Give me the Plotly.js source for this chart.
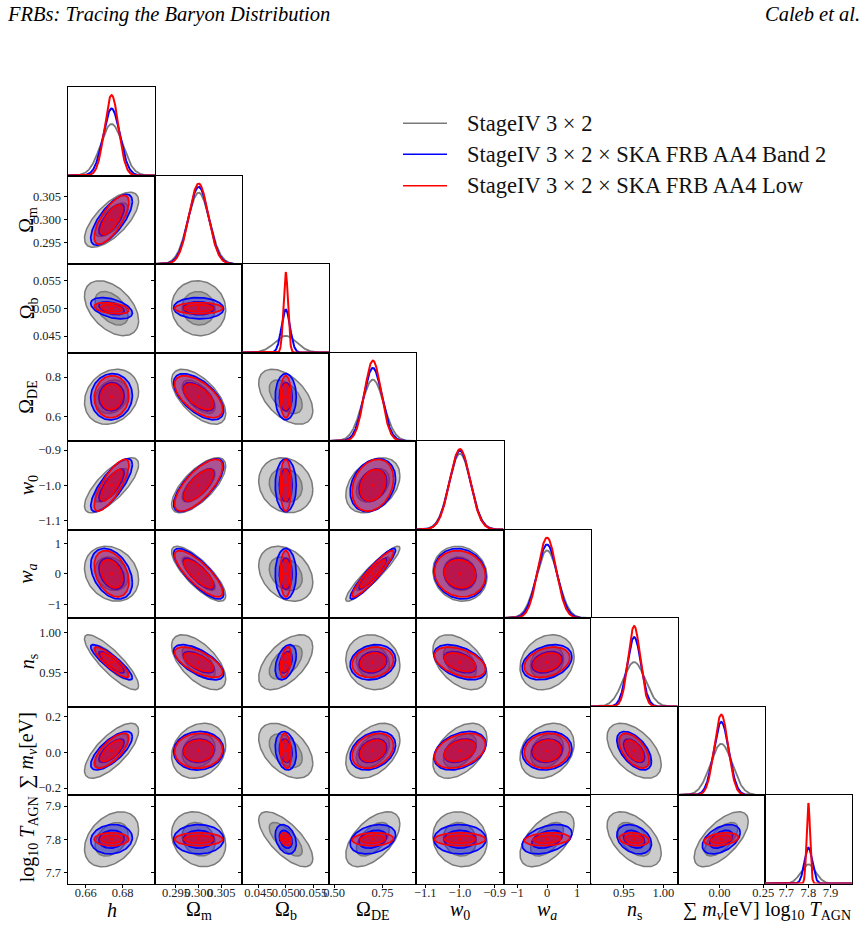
<!DOCTYPE html>
<html>
<head>
<meta charset="utf-8">
<script src="https://cdn.plot.ly/plotly-3.0.1.min.js"></script>
<style>
  html, body { margin: 0; padding: 0; background: #ffffff; }
  #fig { width: 868px; height: 927px; }
</style>
</head>
<body>
<div id="fig"></div>
<script>
// ---- Forecast inputs -------------------------------------------------------
const paramLabels = ['<i>h</i>', 'Ω<sub>m</sub>', 'Ω<sub>b</sub>', 'Ω<sub>DE</sub>',
  '<i>w</i><sub>0</sub>', '<i>w<sub>a</sub></i>', '<i>n</i><sub>s</sub>',
  '∑ <i>m<sub>ν</sub></i>[eV]', 'log<sub>10</sub> <i>T</i><sub>AGN</sub>'];
const fiducial = [0.674, 0.300, 0.050, 0.700, -1.0, 0.0, 0.963, 0.01, 7.8];

const seriesNames = ['StageIV 3 × 2', 'StageIV 3 × 2 × SKA FRB AA4 Band 2', 'StageIV 3 × 2 × SKA FRB AA4 Low'];

// marginalised 1-sigma errors
const sigmaStageIV = [0.0059, 0.0024, 0.00199, 0.0562, 0.0314, 0.3625, 0.0138, 0.0622, 0.0333];
const sigmaBand2   = [0.00454, 0.00222, 0.000774, 0.0472, 0.0302, 0.3336, 0.00884, 0.0436, 0.0178];
const sigmaLow     = [0.00378, 0.00213, 0.000414, 0.0429, 0.0296, 0.3046, 0.00762, 0.0396, 0.00793];

// correlation coefficients, lower triangle: row i holds rho(i, j) for j < i
const rhoStageIV = [
  [],
  [0.68],
  [-0.45, -0.05],
  [0.2, -0.6, -0.5],
  [0.75, 0.7, -0.15, 0.35],
  [-0.2, -0.8, -0.3, 0.93, -0.1],
  [-0.85, -0.6, 0.55, -0.1, -0.45, 0.2],
  [0.72, 0.2, -0.45, 0.4, 0.45, 0.25, -0.5],
  [0.35, -0.2, -0.7, 0.55, -0.1, 0.55, -0.5, 0.65]
];
const rhoBand2 = [
  [],
  [0.72],
  [-0.45, -0.05],
  [0.05, -0.6, 0.0],
  [0.78, 0.72, 0.0, 0.25],
  [-0.35, -0.8, 0.0, 0.93, -0.1],
  [-0.88, -0.65, 0.4, 0.15, -0.45, 0.3],
  [0.72, 0.05, -0.2, 0.3, 0.35, 0.1, -0.55],
  [0.1, 0.0, -0.3, 0.3, 0.0, 0.4, -0.3, 0.45]
];
const rhoLow = [
  [],
  [0.72],
  [-0.35, 0.0],
  [0.05, -0.6, 0.0],
  [0.78, 0.72, 0.0, 0.25],
  [-0.35, -0.8, 0.0, 0.93, -0.1],
  [-0.88, -0.65, 0.4, 0.15, -0.45, 0.3],
  [0.72, 0.05, -0.2, 0.3, 0.35, 0.1, -0.55],
  [0.0, 0.0, -0.3, 0.1, 0.0, 0.2, -0.2, 0.3]
];

// tick values / labels for each parameter
const xTickVals = [[0.66, 0.68], [0.295, 0.300, 0.305], [0.045, 0.050, 0.055], [0.50, 0.75],
  [-1.1, -1.0, -0.9], [-1, 0, 1], [0.95, 1.00], [0.00, 0.25], [7.7, 7.8, 7.9]];
const xTickText = [['0.66', '0.68'], ['0.295', '0.300', '0.305'], ['0.045', '0.050', '0.055'], ['0.50', '0.75'],
  ['−1.1', '−1.0', '−0.9'], ['−1', '0', '1'], ['0.95', '1.00'], ['0.00', '0.25'], ['7.7', '7.8', '7.9']];
const yTickVals = [[], [0.295, 0.300, 0.305], [0.045, 0.050, 0.055], [0.6, 0.8],
  [-1.1, -1.0, -0.9], [-1, 0, 1], [0.95, 1.00], [-0.2, 0.0, 0.2], [7.7, 7.8, 7.9]];
const yTickText = [[], ['0.295', '0.300', '0.305'], ['0.045', '0.050', '0.055'], ['0.6', '0.8'],
  ['−1.1', '−1.0', '−0.9'], ['−1', '0', '1'], ['0.95', '1.00'], ['−0.2', '0.0', '0.2'], ['7.7', '7.8', '7.9']];

// ---- Styling ----------------------------------------------------------------
const FONT = '"Liberation Serif", "DejaVu Serif", serif';
const W = 868, H = 927;
const GRID_LEFT = 68, GRID_TOP = 87, CELL_W = 87.1, CELL_H = 88.5;
const RANGE_SIGMAS = 4;           // axis half-width in units of the StageIV error
const LAST_DIAG_HALF = 0.197;     // wider window for the last 1D panel
const K68 = Math.sqrt(2.30), K95 = Math.sqrt(6.18);

const series = [
  { sigma: sigmaStageIV, rho: rhoStageIV, line: '#7a7a7a', width: 1.5,
    fillOuter: 'rgba(110,110,110,0.36)', fillInner: 'rgba(100,100,100,0.38)' },
  { sigma: sigmaBand2, rho: rhoBand2, line: '#0000ff', width: 1.7,
    fillOuter: 'rgba(0,0,255,0.33)', fillInner: 'rgba(0,0,240,0.33)' },
  { sigma: sigmaLow, rho: rhoLow, line: '#ff0000', width: 1.7,
    fillOuter: 'rgba(230,0,30,0.38)', fillInner: 'rgba(235,0,20,0.52)' }
];

const N = paramLabels.length;
const traces = [];
const layout = {
  width: W, height: H,
  margin: { l: 0, r: 0, t: 0, b: 0 },
  paper_bgcolor: '#ffffff', plot_bgcolor: '#ffffff',
  showlegend: false,
  font: { family: FONT, color: '#000' },
  annotations: [], shapes: []
};

const px = v => v / W;
const py = v => 1 - v / H;

function halfWidth(i) { return RANGE_SIGMAS * sigmaStageIV[i]; }
function rangeOf(i) { return [fiducial[i] - halfWidth(i), fiducial[i] + halfWidth(i)]; }

function baseAxis() {
  return {
    showgrid: false, zeroline: false, showline: true, mirror: true,
    linecolor: '#000', linewidth: 1, ticks: '', showticklabels: false,
    ticklen: 3.5, tickwidth: 1, tickcolor: '#000', fixedrange: true, tickangle: 0,
    tickfont: { family: FONT, size: 12.5, color: '#222' }
  };
}

function ellipse(mx, my, sx, sy, r, k) {
  const xs = [], ys = [], n = 120;
  const c = Math.sqrt(1 - r * r);
  for (let t = 0; t <= n; t++) {
    const a = 2 * Math.PI * t / n;
    xs.push(mx + k * sx * Math.cos(a));
    ys.push(my + k * sy * (r * Math.cos(a) + c * Math.sin(a)));
  }
  return { xs, ys };
}

let axisIndex = 0;
for (let row = 0; row < N; row++) {
  for (let col = 0; col <= row; col++) {
    axisIndex++;
    const xa = 'x' + (axisIndex === 1 ? '' : axisIndex);
    const ya = 'y' + (axisIndex === 1 ? '' : axisIndex);
    const xKey = 'xaxis' + (axisIndex === 1 ? '' : axisIndex);
    const yKey = 'yaxis' + (axisIndex === 1 ? '' : axisIndex);
    const x0 = GRID_LEFT + CELL_W * col, y0 = GRID_TOP + CELL_H * row;

    const xAxis = baseAxis();
    const yAxis = baseAxis();
    xAxis.domain = [px(x0), px(x0 + CELL_W)];
    yAxis.domain = [py(y0 + CELL_H), py(y0)];
    xAxis.anchor = ya; yAxis.anchor = xa;
    xAxis.range = rangeOf(col);
    if (row === N - 1) {
      xAxis.ticks = 'outside';
      xAxis.showticklabels = true;
      xAxis.tickmode = 'array';
      xAxis.tickvals = xTickVals[col];
      xAxis.ticktext = xTickText[col];
      xAxis.ticklabelstandoff = -6;
    }

    if (row === col) {
      // 1D marginal
      const half = (col === N - 1) ? LAST_DIAG_HALF : halfWidth(col);
      xAxis.range = [fiducial[col] - half, fiducial[col] + half];
      let peak = 0;
      series.forEach(s => {
        const sg = s.sigma[col];
        const xs = [], ys = [];
        for (let t = 0; t <= 300; t++) {
          const xv = fiducial[col] - half + 2 * half * t / 300;
          const z = (xv - fiducial[col]) / sg;
          const yv = Math.exp(-0.5 * z * z) / (sg * Math.sqrt(2 * Math.PI));
          xs.push(xv); ys.push(yv);
        }
        peak = Math.max(peak, 1 / (sg * Math.sqrt(2 * Math.PI)));
        traces.push({ type: 'scatter', mode: 'lines', x: xs, y: ys, xaxis: xa, yaxis: ya,
          line: { color: s.line, width: s.width + 0.3 }, hoverinfo: 'skip' });
      });
      yAxis.range = [0, peak * 1.1];
    } else {
      yAxis.range = rangeOf(row);
      yAxis.ticks = 'outside';
      yAxis.tickmode = 'array';
      yAxis.tickvals = yTickVals[row];
      yAxis.ticktext = yTickText[row];
      yAxis.showticklabels = (col === 0);
      series.forEach(s => {
        const sx = s.sigma[col], sy = s.sigma[row], r = s.rho[row][col];
        const outer = ellipse(fiducial[col], fiducial[row], sx, sy, r, K95);
        const inner = ellipse(fiducial[col], fiducial[row], sx, sy, r, K68);
        traces.push({ type: 'scatter', mode: 'lines', x: outer.xs, y: outer.ys, xaxis: xa, yaxis: ya,
          fill: 'toself', fillcolor: s.fillOuter, line: { color: s.line, width: s.width }, hoverinfo: 'skip' });
        traces.push({ type: 'scatter', mode: 'lines', x: inner.xs, y: inner.ys, xaxis: xa, yaxis: ya,
          fill: 'toself', fillcolor: s.fillInner, line: { color: s.line, width: s.width }, hoverinfo: 'skip' });
      });
      // fiducial point
      traces.push({ type: 'scatter', mode: 'markers', x: [fiducial[col]], y: [fiducial[row]], xaxis: xa, yaxis: ya,
        marker: { color: '#ff0000', size: 3 }, hoverinfo: 'skip' });
    }
    layout[xKey] = xAxis;
    layout[yKey] = yAxis;
  }
}

// axis titles
for (let i = 0; i < N; i++) {
  layout.annotations.push({
    text: paramLabels[i], xref: 'paper', yref: 'paper',
    x: px(GRID_LEFT + CELL_W * (i + 0.5)), y: py(910), xanchor: 'center', yanchor: 'middle',
    showarrow: false, font: { family: FONT, size: 20, color: '#000' }
  });
  if (i > 0) {
    layout.annotations.push({
      text: paramLabels[i], xref: 'paper', yref: 'paper', textangle: -90,
      x: px(28), y: py(GRID_TOP + CELL_H * (i + 0.5)), xanchor: 'center', yanchor: 'middle',
      showarrow: false, font: { family: FONT, size: 20, color: '#000' }
    });
  }
}

// legend
const legendRows = [123.3, 154.3, 185.7];
series.forEach((s, k) => {
  layout.shapes.push({ type: 'line', xref: 'paper', yref: 'paper',
    x0: px(403), x1: px(447), y0: py(legendRows[k]), y1: py(legendRows[k]),
    line: { color: s.line, width: 1.6 } });
  layout.annotations.push({ text: seriesNames[k], xref: 'paper', yref: 'paper',
    x: px(465), y: py(legendRows[k]), xanchor: 'left', yanchor: 'middle', showarrow: false,
    font: { family: FONT, size: 22.5, color: '#111' } });
});

// running header
layout.annotations.push({ text: '<i>FRBs: Tracing the Baryon Distribution</i>', xref: 'paper', yref: 'paper',
  x: px(5), y: py(14), xanchor: 'left', yanchor: 'middle', showarrow: false,
  font: { family: FONT, size: 20.5, color: '#000' } });
layout.annotations.push({ text: '<i>Caleb et al.</i>', xref: 'paper', yref: 'paper',
  x: px(862), y: py(14), xanchor: 'right', yanchor: 'middle', showarrow: false,
  font: { family: FONT, size: 20.5, color: '#000' } });

Plotly.newPlot('fig', traces, layout, { staticPlot: true, displayModeBar: false });
</script>
</body>
</html>
